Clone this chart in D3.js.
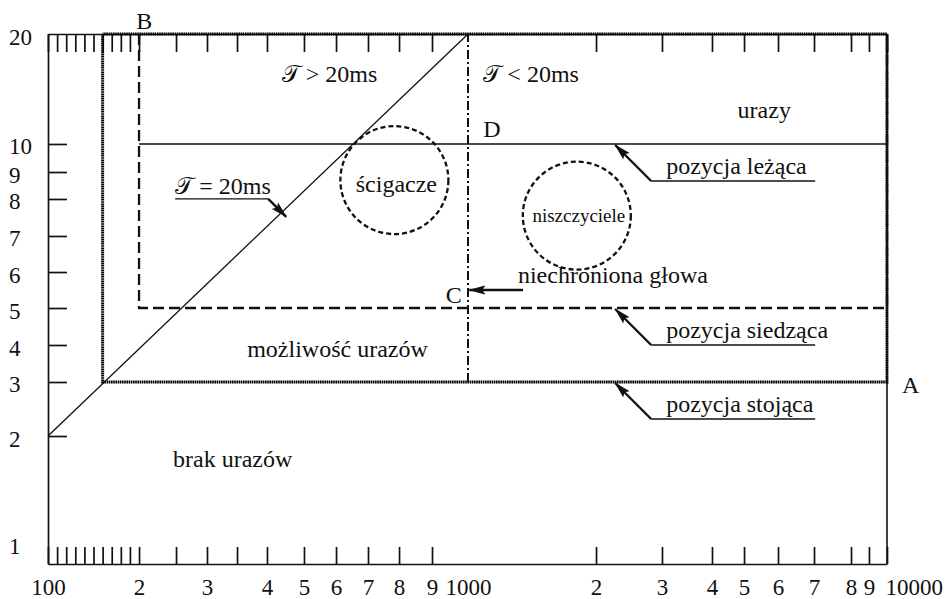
<!DOCTYPE html>
<html lang="pl">
<head>
<meta charset="UTF-8">
<title>Strefy urazów</title>
<script src="https://d3js.org/d3.v7.min.js"></script>
<style>
  body { margin: 0; background: #fff; }
  svg text { font-family: "Liberation Serif", "DejaVu Serif", serif; fill: #111; }
</style>
</head>
<body>
<div id="chart"></div>
<script>
// axis values and their labels
const xTicksMajor = [100, 200, 300, 400, 500, 600, 700, 800, 900, 1000, 2000, 3000, 4000, 5000, 6000, 7000, 8000, 9000, 10000];
const xTickLabels = ["100", "2", "3", "4", "5", "6", "7", "8", "9", "1000", "2", "3", "4", "5", "6", "7", "8", "9", "10000"];
const xTicksMinor = [110, 120, 130, 140, 150, 160, 170, 180, 190, 250, 350];
const yTicks = [1, 2, 3, 4, 5, 6, 7, 8, 9, 10, 20];
const yTickLabels = ["1", "2", "3", "4", "5", "6", "7", "8", "9", "10", "20"];

// the original grid is hand ruled, only roughly logarithmic:
// where each ruled value sits, as a fraction of the plot size
const xRuleVals = [100, 200, 250, 300, 350, 400, 500, 600, 700, 800, 900, 1000, 2000, 3000, 4000, 5000, 6000, 7000, 8000, 9000, 10000];
const xRuleFrac = [0, .1085, .1526, .1895, .2253, .2610, .3051, .3433, .3814, .4184, .4577, .5006, .6532, .7318, .7914, .8296, .8701, .9130, .9571, .9785, 1];
const yRuleVals = [1, 2, 3, 4, 5, 6, 7, 8, 9, 10, 20];
const yRuleFrac = [0, .2415, .3434, .4132, .4830, .5509, .6189, .6887, .7396, .7925, 1];

// zones
const standing = [[160, 20], [160, 3], [10000, 3], [10000, 20], [160, 20]];   // pozycja stojąca
const sitting = [[200, 20], [200, 5], [10000, 5], [10000, 20]];               // pozycja siedząca
const lying = [[200, 10], [10000, 10]];                                       // pozycja leżąca
const tau20 = [[100, 2], [1000, 20]];                                         // T = 20ms
const lineC = [[1000, 3], [1000, 20]];

const ships = [
  {name: "ścigacze", x: 785, y: 8.7, small: false},
  {name: "niszczyciele", x: 1850, y: 7.55, small: true}
];

const positions = [
  {name: "pozycja leżąca", y: 10},
  {name: "pozycja siedząca", y: 5},
  {name: "pozycja stojąca", y: 3}
];
const positionArrowX = 2290;

const notes = [
  {text: "B", x: 207, y: 20.5, anchor: "middle"},
  {text: "𝒯 > 20ms", x: 440, y: 15.6},
  {text: "𝒯 < 20ms", x: 1120, y: 15.6},
  {text: "D", x: 1120, y: 10.65},
  {text: "urazy", x: 4800, y: 12.4},
  {text: "niechroniona głowa", x: 1390, y: 5.7},
  {text: "C", x: 983, y: 5.14, anchor: "end"},
  {text: "A", x: 10830, y: 2.8},
  {text: "możliwość urazów", x: 367, y: 3.68},
  {text: "brak urazów", x: 246, y: 1.76}
];
const headArrow = [[1430, 5.5], [1010, 5.5]];

const W = 947, H = 599;
const m = {left: 48, top: 34};
const pw = 839, ph = 530;

const x = d3.scaleLinear().domain(xRuleVals).range(xRuleFrac.map(f => m.left + f * pw));
const y = d3.scaleLinear().domain(yRuleVals).range(yRuleFrac.map(f => m.top + ph - f * ph));
const line = d3.line().x(d => x(d[0])).y(d => y(d[1]));

const svg = d3.select("#chart").append("svg")
    .attr("width", W)
    .attr("height", H)
    .style("background", "#fff");

svg.append("defs").append("marker")
    .attr("id", "arrow")
    .attr("viewBox", "0 -5 17 10")
    .attr("refX", 16).attr("refY", 0)
    .attr("markerWidth", 17).attr("markerHeight", 10)
    .attr("markerUnits", "userSpaceOnUse")
    .attr("orient", "auto")
  .append("path")
    .attr("d", "M0,-4.5L17,0L0,4.5L3,0Z")
    .attr("fill", "#111");

// axes
const xLabel = new Map(xTicksMajor.map((v, i) => [v, xTickLabels[i]]));
const gx = svg.append("g")
    .attr("transform", `translate(0,${m.top + ph})`)
    .call(d3.axisBottom(x)
        .tickValues(xTicksMajor.concat(xTicksMinor))
        .tickSize(-17).tickSizeOuter(0).tickPadding(15)
        .tickFormat(v => xLabel.get(v) || ""));
gx.selectAll(".tick").filter(d => d === 1000).select("line").remove();
gx.selectAll(".tick").filter(d => d === 10000).select("text").attr("text-anchor", "start").attr("x", -2);

const gt = svg.append("g")
    .attr("transform", `translate(0,${m.top})`)
    .call(d3.axisTop(x)
        .tickValues(xTicksMajor.concat(xTicksMinor).filter(v => v !== 1000))
        .tickSize(-18).tickSizeOuter(0).tickFormat(""));

const yLabel = new Map(yTicks.map((v, i) => [v, yTickLabels[i]]));
const gy = svg.append("g")
    .attr("transform", `translate(${m.left},0)`)
    .call(d3.axisLeft(y)
        .tickValues(yTicks)
        .tickSize(-19).tickSizeOuter(0)
        .tickFormat(v => yLabel.get(v)));
gy.selectAll(".tick").filter(d => d === 1 || d === 20).select("line").remove();
gy.selectAll(".tick text")
    .attr("text-anchor", "start")
    .attr("x", -39)
    .attr("dy", null)
    .attr("y", d => d === 1 ? -11 : 10);

svg.append("line")
    .attr("x1", x(10000)).attr("x2", x(10000))
    .attr("y1", y(1)).attr("y2", y(20))
    .attr("stroke", "#111").attr("stroke-width", 1.6);

[gx, gt, gy].forEach(g => {
  g.attr("font-family", null).attr("font-size", 23).attr("color", "#111");
  g.selectAll("path, line").attr("stroke-width", 1.7);
});

// zones
svg.append("path").attr("d", line(standing))
    .attr("fill", "none").attr("stroke", "#000")
    .attr("stroke-width", 3).attr("stroke-dasharray", "1.6,0.6");
svg.append("path").attr("d", line(sitting))
    .attr("fill", "none").attr("stroke", "#111")
    .attr("stroke-width", 2.3).attr("stroke-dasharray", "11,5");
svg.append("path").attr("d", line(lying))
    .attr("fill", "none").attr("stroke", "#111").attr("stroke-width", 1.3);
svg.append("path").attr("d", line(lineC))
    .attr("fill", "none").attr("stroke", "#111")
    .attr("stroke-width", 2).attr("stroke-dasharray", "9,3,2,3");
svg.append("path").attr("d", line(tau20))
    .attr("fill", "none").attr("stroke", "#111").attr("stroke-width", 1.3);

// ship groups
const sg = svg.selectAll(".ship").data(ships).enter().append("g").attr("class", "ship");
sg.append("circle")
    .attr("cx", d => x(d.x)).attr("cy", d => y(d.y)).attr("r", 54)
    .attr("fill", "none").attr("stroke", "#111")
    .attr("stroke-width", 2.3).attr("stroke-dasharray", "5,3");
sg.append("text")
    .attr("x", d => x(d.x) + 2).attr("y", d => y(d.y) + (d.small ? 6 : 12))
    .attr("text-anchor", "middle")
    .attr("font-size", d => d.small ? 19 : 24)
    .text(d => d.name);

// plain labels
svg.selectAll(".note").data(notes).enter().append("text")
    .attr("class", "note")
    .attr("x", d => x(d.x)).attr("y", d => y(d.y))
    .attr("text-anchor", d => d.anchor || "start")
    .attr("font-size", 24)
    .text(d => d.text);

svg.append("path").attr("d", line(headArrow))
    .attr("stroke", "#111").attr("stroke-width", 2.6)
    .attr("marker-end", "url(#arrow)");

// body position callouts
const pc = svg.selectAll(".pos").data(positions).enter().append("g").attr("class", "pos")
    .attr("transform", d => `translate(${x(positionArrowX)},${y(d.y)})`);
pc.append("line")
    .attr("x1", 36).attr("y1", 37).attr("x2", 0).attr("y2", 1)
    .attr("stroke", "#111").attr("stroke-width", 2.4)
    .attr("marker-end", "url(#arrow)");
pc.append("line")
    .attr("x1", 36).attr("y1", 37).attr("x2", 200).attr("y2", 37)
    .attr("stroke", "#111").attr("stroke-width", 1.4);
pc.append("text")
    .attr("x", 51).attr("y", 30)
    .attr("font-size", 24)
    .text(d => d.name);

// T = 20ms callout, pinned to the limit line
const p0 = [x(tau20[0][0]), y(tau20[0][1])], p1 = [x(tau20[1][0]), y(tau20[1][1])];
const pin = d3.interpolateArray(p0, p1)(0.56);
const tc = svg.append("g").attr("transform", `translate(${pin[0]},${pin[1]})`);
tc.append("line")
    .attr("x1", -15).attr("y1", -12).attr("x2", 3).attr("y2", 6)
    .attr("stroke", "#111").attr("stroke-width", 2.4)
    .attr("marker-end", "url(#arrow)");
tc.append("line")
    .attr("x1", -108).attr("y1", -12).attr("x2", -15).attr("y2", -12)
    .attr("stroke", "#111").attr("stroke-width", 1.4);
tc.append("text")
    .attr("x", -108).attr("y", -17)
    .attr("font-size", 24)
    .text("𝒯 = 20ms");
</script>
</body>
</html>
